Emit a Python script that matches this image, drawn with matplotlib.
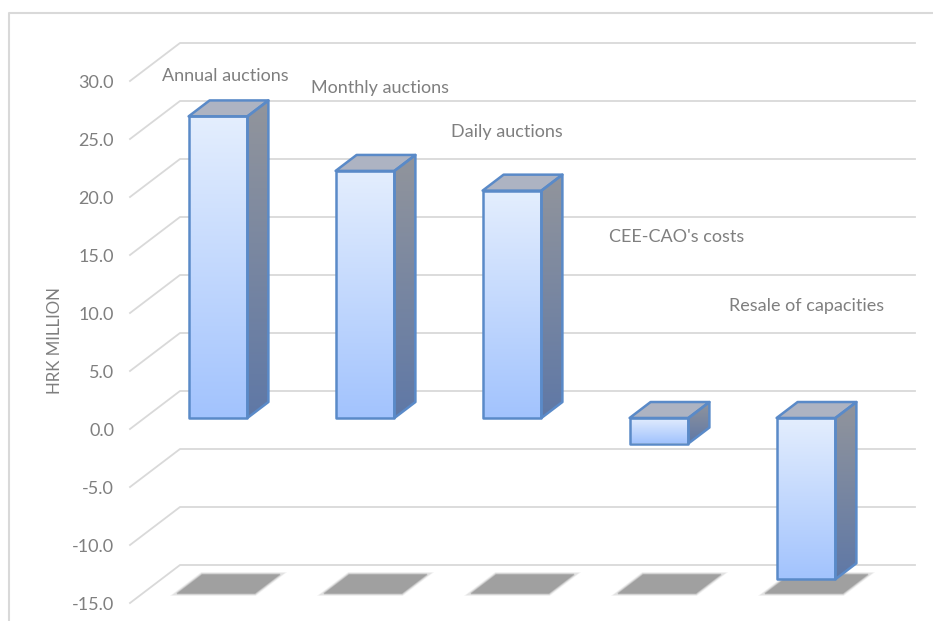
import numpy as np
import matplotlib
matplotlib.use("Agg")
import matplotlib.pyplot as plt
from matplotlib.colors import LinearSegmentedColormap
from matplotlib.lines import Line2D
from matplotlib.patches import Polygon

categories = ["Annual auctions", "Monthly auctions", "Daily auctions", "CEE-CAO's costs", "Resale of capacities"]
values = [26.0, 21.3, 19.6, -2.2, -13.9]
y_ticks = [30, 25, 20, 15, 10, 5, 0, -5, -10, -15]

WIDTH, HEIGHT = 933, 621
# front edge of the chart box in pixels
LEFT, RIGHT, TOP, BOTTOM = 130, 865, 81, 603
GRID = "#d9d9d9"
TEXT = "#7f7f7f"

# label anchors (pixels from top left)
label_x = [225, 380, 507, 677, 807]
label_y = [76, 88, 132, 237, 306]

plt.rcParams['font.family'] = ['Lato', 'DejaVu Sans']

fig = plt.figure(figsize=(WIDTH / 100, HEIGHT / 100), dpi=100)
ax = fig.add_axes([LEFT / WIDTH, 1 - BOTTOM / HEIGHT, (RIGHT - LEFT) / WIDTH, (BOTTOM - TOP) / HEIGHT])
ax.set_xlim(-0.5, 4.5)
ax.set_ylim(-15, 30)

# one unit of depth in data units
px_x = 5 / (RIGHT - LEFT)
px_y = 45 / (BOTTOM - TOP)
depth_x = 50 * px_x
depth_y = 38 * px_y

front_cmap = LinearSegmentedColormap.from_list("front", ["#e4eefe", "#a2c3fd"])
side_cmap = LinearSegmentedColormap.from_list("side", ["#92959c", "#5f78a6"])


def project(x, v, d):
    return (x + d * depth_x, v + d * depth_y)


def gradient_face(points, cmap, zorder):
    # fills a polygon with a vertical gradient
    xs = [p[0] for p in points]
    ys = [p[1] for p in points]
    patch = Polygon(points, closed=True, facecolor="none", edgecolor="none", transform=ax.transData)
    ax.add_patch(patch)
    grad = np.linspace(0, 1, 256).reshape(-1, 1)
    im = ax.imshow(grad, cmap=cmap, extent=(min(xs), max(xs), min(ys), max(ys)), origin="upper",
                   aspect="auto", zorder=zorder, interpolation="bilinear")
    im.set_clip_path(patch)


def outline(points, zorder):
    ax.add_patch(Polygon(points, closed=True, facecolor="none", edgecolor="#5a8ac8", linewidth=1.8,
                         joinstyle="round", zorder=zorder, clip_on=False))


# grid walls
for t in y_ticks:
    xs, ys = zip(project(-0.5, t, 0), project(-0.5, t, 1), project(4.5, t, 1))
    ax.plot(xs, ys, color=GRID, linewidth=1.3, clip_on=False, zorder=1)

# shadows on the floor
for i in range(len(categories)):
    half = 0.265
    pts = [project(i - half, -15, 0.25), project(i + half, -15, 0.25),
           project(i + half, -15, 0.75), project(i - half, -15, 0.75)]
    for lw, alpha in [(3.5, 0.12), (2.5, 0.2), (1.5, 0.3), (0.8, 0.4)]:
        ax.add_patch(Polygon(pts, closed=True, facecolor="none", edgecolor="#a0a0a0", alpha=alpha,
                             linewidth=lw, zorder=2, clip_on=False))
    ax.add_patch(Polygon(pts, closed=True, facecolor="#a0a0a0", edgecolor="none", zorder=2, clip_on=False))

# bars
d0, d1 = 0.29, 0.71
half_bar = 0.2
for i, v in enumerate(values):
    top, low = max(v, 0), min(v, 0)
    l, r = i - half_bar, i + half_bar
    front = [project(l, top, d0), project(r, top, d0), project(r, low, d0), project(l, low, d0)]
    side = [project(r, top, d0), project(r, top, d1), project(r, low, d1), project(r, low, d0)]
    cap = [project(l, top, d0), project(r, top, d0), project(r, top, d1), project(l, top, d1)]

    gradient_face(side, side_cmap, 4)
    ax.add_patch(Polygon(cap, closed=True, facecolor="#adb3c2", edgecolor="none", zorder=4, clip_on=False))
    gradient_face(front, front_cmap, 5)
    outline(side, 6)
    outline(cap, 6)
    outline(front, 7)

ax.set_xlim(-0.5, 4.5)
ax.set_ylim(-15, 30)

ax.patch.set_visible(False)
for spine in ax.spines.values():
    spine.set_visible(False)
ax.set_xticks([])
ax.set_yticks(y_ticks)
ax.set_yticklabels([f"{t:.1f}" for t in y_ticks], color=TEXT, fontsize=13)
ax.tick_params(axis="y", length=0, pad=11.5)

fig.text(55 / WIDTH, 1 - 341 / HEIGHT, "HRK MILLION", rotation=90, ha="center", va="center",
         color=TEXT, fontsize=12.2)

for name, lx, ly in zip(categories, label_x, label_y):
    fig.text(lx / WIDTH, 1 - ly / HEIGHT, name, ha="center", va="center", color=TEXT, fontsize=13)

# chart frame, cut off on the right and bottom
fig.add_artist(Line2D([9 / WIDTH, 9 / WIDTH, 1], [0, 1 - 13 / HEIGHT, 1 - 13 / HEIGHT], color=GRID, linewidth=1.5))

fig.savefig("out.png", dpi=100, facecolor="white")
